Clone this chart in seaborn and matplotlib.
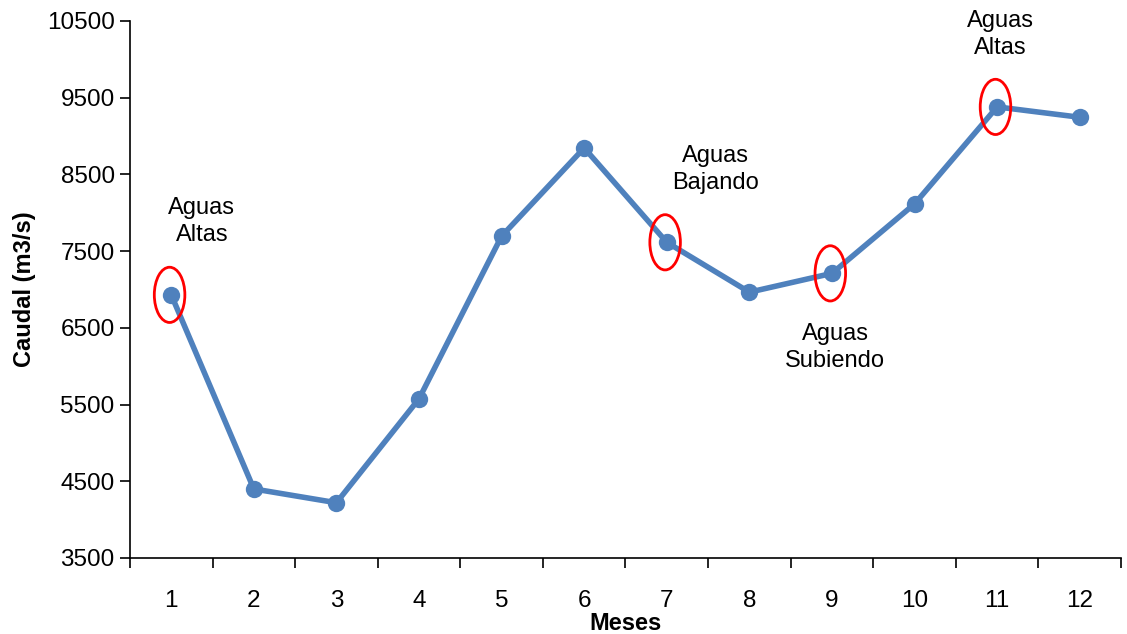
import numpy as np
import pandas as pd
import seaborn as sns
import matplotlib.pyplot as plt
from matplotlib.patches import Ellipse

# monthly discharge values
meses = [1, 2, 3, 4, 5, 6, 7, 8, 9, 10, 11, 12]
caudal = [6930, 4400, 4220, 5575, 7695, 8845, 7615, 6965, 7210, 8115, 9380, 9245]

# highlighted months and their notes
marcados = [1, 7, 9, 11]
notas = ["Aguas\nAltas", "Aguas\nBajando", "Aguas\nSubiendo", "Aguas\nAltas"]
nota_x = [1.37, 7.59, 9.04, 11.04]
nota_y = [7890, 8560, 6240, 10320]

df = pd.DataFrame({"Meses": meses, "Caudal": caudal})

sns.set_style("white")
plt.rcParams['font.family'] = ['Liberation Sans', 'DejaVu Sans']
plt.rcParams['text.color'] = 'black'
plt.rcParams['axes.labelcolor'] = 'black'
plt.rcParams['xtick.color'] = 'black'
plt.rcParams['ytick.color'] = 'black'

fig = plt.figure(figsize=(11.27, 6.34), dpi=100)
ax = fig.add_axes([0.1153, 0.1199, 0.8794, 0.8470])

sns.lineplot(data=df, x="Meses", y="Caudal", ax=ax, color="#4F81BD",
             linewidth=4, marker="o", markersize=12.5, markeredgewidth=0)

# red ellipses around the highlighted months
for m in marcados:
    v = caudal[meses.index(m)]
    ax.add_patch(Ellipse((m - 0.02, v), width=0.37, height=720, fill=False,
                         edgecolor="#FF0000", linewidth=2, zorder=5))

for t, x, y in zip(notas, nota_x, nota_y):
    ax.text(x, y, t, ha="center", va="center", fontsize=17,
            linespacing=1.3, clip_on=False)

ax.set_xlim(0.5, 12.5)
ax.set_ylim(3500, 10500)
ax.set_yticks(np.arange(3500, 10501, 1000))
# tick marks between months, labels centred on months
ax.set_xticks(np.arange(0.5, 12.6, 1))
ax.set_xticklabels([])
ax.set_xticks(meses, minor=True)
ax.set_xticklabels([str(m) for m in meses], minor=True)
ax.tick_params(axis="x", which="major", bottom=True, direction="out", length=7, width=1.2)
ax.tick_params(axis="x", which="minor", bottom=True, length=0, labelsize=17.5, pad=23)
ax.tick_params(axis="y", left=True, direction="out", length=7, width=1.2, labelsize=17.5, pad=4)

for s in ["top", "right"]:
    ax.spines[s].set_visible(False)
for s in ["left", "bottom"]:
    ax.spines[s].set_color("black")
    ax.spines[s].set_linewidth(1.2)

ax.set_xlabel("Meses", fontsize=17, fontweight="bold", labelpad=0)
ax.set_ylabel("Caudal (m3/s)", fontsize=17, fontweight="bold", labelpad=8)

fig.savefig("out.png", dpi=100)
